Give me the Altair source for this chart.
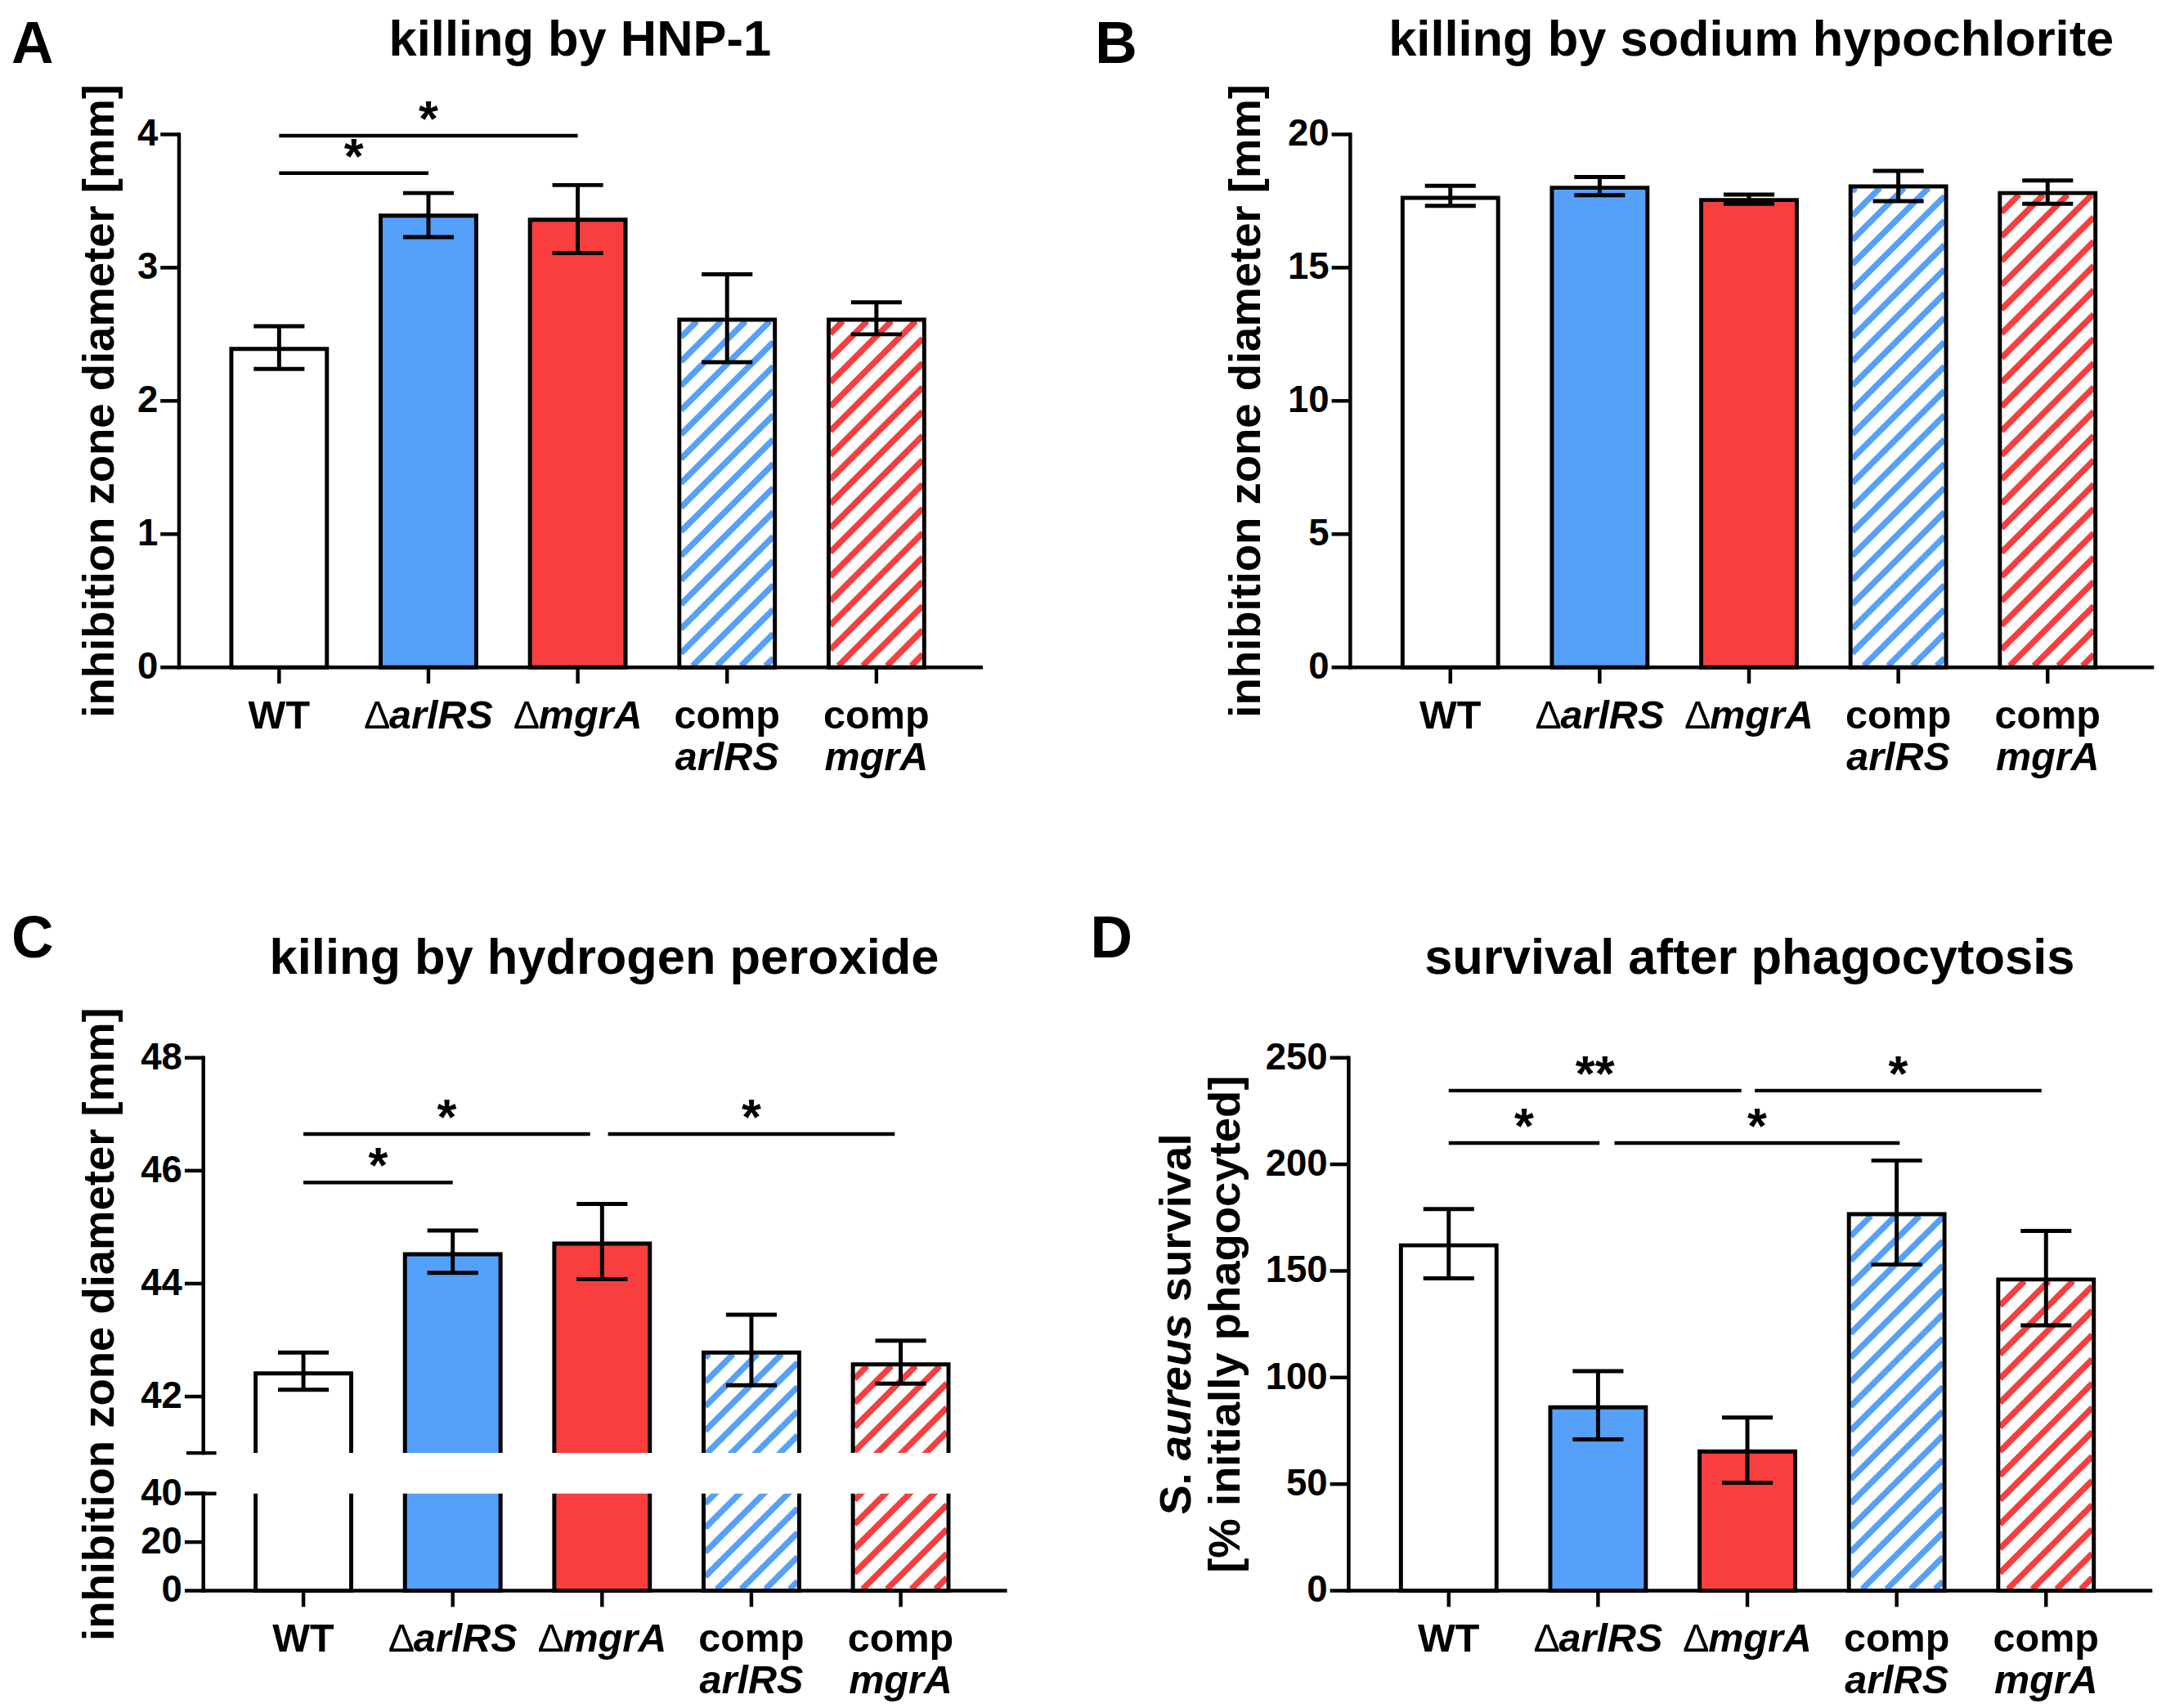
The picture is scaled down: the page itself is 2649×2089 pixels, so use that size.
import math
import altair as alt
import pandas as pd

FONT = "Liberation Sans"
BLUE = "#55a0fb"
RED = "#f83e3e"

# ---------------- data ----------------
group_pos = [0, 1, 2, 3, 4]
groups = ["WT", "ΔarlRS", "ΔmgrA", "comp arlRS", "comp mgrA"]
bar_fill = ["#ffffff", BLUE, RED, "#ffffff", "#ffffff"]
bar_hatch = ["", "", "", BLUE, RED]

# x label pieces: (text, style) b = bold, bi = bold italic, r = regular
label_line1 = [[("WT", "b")], [("Δ", "r"), ("arlRS", "bi")], [("Δ", "r"), ("mgrA", "bi")],
               [("comp", "b")], [("comp", "b")]]
label_line2 = [[], [], [], [("arlRS", "bi")], [("mgrA", "bi")]]

# Panel A
a_letter = "A"
a_title = "killing by HNP-1"
a_ytitle = "inhibition zone diameter [mm]"
a_mean = [2.39, 3.39, 3.36, 2.61, 2.61]
a_lo = [2.24, 3.23, 3.11, 2.29, 2.50]
a_hi = [2.56, 3.56, 3.62, 2.95, 2.74]
a_yticks = [0, 1, 2, 3, 4]
a_sig_x1 = [0.0, 0.0]
a_sig_x2 = [1.0, 2.0]
a_sig_y = [3.71, 3.99]
a_sig_txt = ["*", "*"]

# Panel B
b_letter = "B"
b_title = "killing by sodium hypochlorite"
b_ytitle = "inhibition zone diameter [mm]"
b_mean = [17.62, 18.0, 17.54, 18.05, 17.8]
b_lo = [17.32, 17.72, 17.4, 17.5, 17.4]
b_hi = [18.07, 18.4, 17.74, 18.63, 18.27]
b_yticks = [0, 5, 10, 15, 20]

# Panel C
c_letter = "C"
c_title = "kiling by hydrogen peroxide"
c_ytitle = "inhibition zone diameter [mm]"
c_mean = [42.41, 44.52, 44.71, 42.78, 42.57]
c_lo = [42.12, 44.19, 44.08, 42.2, 42.23]
c_hi = [42.78, 44.94, 45.41, 43.45, 42.99]
c_yticks = [0, 20, 40, 42, 44, 46, 48]
c_sig_x1 = [0.0, 0.0, 2.04]
c_sig_x2 = [1.0, 1.92, 3.96]
c_sig_y = [45.79, 46.65, 46.65]
c_sig_txt = ["*", "*", "*"]
c_break = [40, 41]
c_axis_lo = [0, 41]
c_axis_hi = [40, 48]

# Panel D
d_letter = "D"
d_title = "survival after phagocytosis"
d_ytitle1 = [("S.", "b"), ("aureus", "bi"), ("survival", "b")]
d_ytitle2 = "[% initially phagocyted]"
d_mean = [162, 86, 65.3, 176.6, 146]
d_lo = [146.5, 71, 50.6, 153, 124.5]
d_hi = [179, 103, 81.2, 201.8, 168.8]
d_yticks = [0, 50, 100, 150, 200, 250]
d_sig_x1 = [0.0, 1.11, 0.0, 2.05]
d_sig_x2 = [1.01, 3.02, 1.96, 3.97]
d_sig_y = [210, 210, 234.6, 234.6]
d_sig_txt = ["*", "*", "**", "*"]

# ---------------- layout ----------------
W, H = 990, 658
XMIN, XMAX = -0.67, 4.70
PXU = W / (XMAX - XMIN)
BAR_HALF, CAP_HALF = 0.32, 0.17
HATCH_P, HATCH_W = 30.0, 7.5
AX_W = 4.5
TICK_LEN = 23
TICK_FS, XL_FS, TITLE_FS, YT_FS, LET_FS, STAR_FS = 46, 49, 62, 55, 72, 62

# Arial/Liberation Sans Bold advance widths (per 1000 em)
CW = {"a": 556, "b": 611, "c": 556, "d": 611, "e": 556, "g": 611, "h": 611, "i": 278,
      "l": 278, "m": 889, "n": 611, "o": 611, "p": 611, "r": 389, "s": 556, "t": 333,
      "u": 611, "v": 556, "y": 556, "z": 500, "A": 722, "R": 722, "S": 667, "T": 611,
      "W": 944, ".": 278, " ": 278, "[": 333, "]": 333, "%": 889, "Δ": 640}


def tw(s):
    return sum(CW.get(ch, 556) for ch in s) / 1000.0


def fwd(v, dom, rng):
    for k in range(len(dom) - 1):
        if v <= dom[k + 1] or k == len(dom) - 2:
            t = (v - dom[k]) / (dom[k + 1] - dom[k])
            return rng[k] + t * (rng[k + 1] - rng[k])


def inv(p, dom, rng):
    for k in range(len(dom) - 1):
        a, b = sorted((rng[k], rng[k + 1]))
        if a - 1e-9 <= p <= b + 1e-9:
            t = (p - rng[k]) / (rng[k + 1] - rng[k])
            return dom[k] + t * (dom[k + 1] - dom[k])
    return dom[0]


def hatch_rows(mean, dom, rng):
    rows = []
    for i, col in enumerate(bar_hatch):
        if not col:
            continue
        x0 = (group_pos[i] - BAR_HALF - XMIN) * PXU + 2
        x1 = (group_pos[i] + BAR_HALF - XMIN) * PXU - 2
        yt = fwd(mean[i], dom, rng) + 2
        yb = fwd(dom[0], dom, rng) - 2
        k0 = math.ceil((x0 + yt) / HATCH_P)
        k1 = math.floor((x1 + yb) / HATCH_P)
        for k in range(k0, k1 + 1):
            c = k * HATCH_P
            pa = max(x0, c - yb)
            pb = min(x1, c - yt)
            if pb - pa < 1:
                continue
            rows.append({"hx": XMIN + pa / PXU, "hx2": XMIN + pb / PXU,
                         "hy": inv(c - pa, dom, rng), "hy2": inv(c - pb, dom, rng), "hc": col})
    return pd.DataFrame(rows)


def xlabel_rows(lines):
    rows = []
    for i, parts in enumerate(lines):
        if not parts:
            continue
        total = sum(tw(t) for t, s in parts) * XL_FS
        start = -total / 2
        for t, s in parts:
            rows.append({"lt": t, "lx": group_pos[i] + start / PXU, "ls": s})
            start += tw(t) * XL_FS
    return pd.DataFrame(rows)


XL1 = xlabel_rows(label_line1)
XL2 = xlabel_rows(label_line2)


def one(text):
    return pd.DataFrame({"t": [text]})


STYLES = {"b": ("bold", "normal"), "bi": ("bold", "italic"), "r": ("normal", "normal")}


def panel(letter, title, mean, lo, hi, dom, rng, yticks, sig, let_x, let_y, title_y, ox=0,
          ytitle=None, ytitle_x=-100, ytitle_two=None, breaks=None):
    xs = alt.Scale(domain=[XMIN, XMAX], range=[ox, ox + W], nice=False, zero=False)
    ys = alt.Scale(domain=dom, range=rng, nice=False, zero=False)
    X = lambda f: alt.X(f, scale=xs, axis=None)
    Y = lambda f: alt.Y(f, scale=ys, axis=None)
    bars = pd.DataFrame({"g": groups,
                         "bx": [p - BAR_HALF for p in group_pos],
                         "bx2": [p + BAR_HALF for p in group_pos],
                         "by": [dom[0]] * 5, "by2": mean, "bf": bar_fill})
    L = []
    # invisible marker keeping the right edge of every panel at the same place
    L.append(alt.Chart(one("")).mark_rule(strokeOpacity=0).encode(
        x=alt.value(W + 2), y=alt.value(0), y2=alt.value(H)))
    # bars: fill, hatching, outline
    L.append(alt.Chart(bars).mark_rect(strokeWidth=0).encode(
        x=X("bx:Q"), x2="bx2:Q", y=Y("by:Q"), y2="by2:Q", fill=alt.Fill("bf:N", scale=None)))
    L.append(alt.Chart(hatch_rows(mean, dom, rng)).mark_rule(strokeWidth=HATCH_W, strokeCap="butt").encode(
        x=X("hx:Q"), x2="hx2:Q", y=Y("hy:Q"), y2="hy2:Q", color=alt.Color("hc:N", scale=None)))
    L.append(alt.Chart(bars).mark_rect(fillOpacity=0, stroke="black", strokeWidth=5).encode(
        x=X("bx:Q"), x2="bx2:Q", y=Y("by:Q"), y2="by2:Q"))
    # y axis line (broken in panel C)
    if breaks:
        gap = pd.DataFrame({"gy": [breaks[0]], "gy2": [breaks[1]]})
        L.append(alt.Chart(gap).mark_rect(fill="white", strokeWidth=0).encode(
            x=alt.value(ox + 3), x2=alt.value(W + 5), y=Y("gy:Q"), y2="gy2:Q"))
        seg = pd.DataFrame({"ay": c_axis_lo, "ay2": c_axis_hi})
        bk = pd.DataFrame({"ky": breaks})
        L.append(alt.Chart(bk).mark_rule(strokeWidth=AX_W, color="black").encode(
            x=alt.value(ox - 21), x2=alt.value(ox + 16), y=Y("ky:Q")))
    else:
        seg = pd.DataFrame({"ay": [dom[0]], "ay2": [dom[-1]]})
    L.append(alt.Chart(seg).mark_rule(strokeWidth=AX_W, color="black", strokeCap="square").encode(
        x=alt.value(ox), y=Y("ay:Q"), y2="ay2:Q"))
    # y ticks and labels
    yt = pd.DataFrame({"tv": yticks, "tl": [str(v) for v in yticks]})
    L.append(alt.Chart(yt).mark_rule(strokeWidth=AX_W, color="black").encode(
        x=alt.value(ox - TICK_LEN), x2=alt.value(ox), y=Y("tv:Q")))
    L.append(alt.Chart(yt).mark_text(font=FONT, fontSize=TICK_FS, fontWeight="bold", align="right",
                                     baseline="middle", color="black").encode(
        x=alt.value(ox - TICK_LEN - 3), y=Y("tv:Q"), text="tl:N"))
    # x axis line and ticks
    base = pd.DataFrame({"v": [dom[0]]})
    L.append(alt.Chart(base).mark_rule(strokeWidth=AX_W, color="black", strokeCap="square").encode(
        x=alt.value(ox), x2=alt.value(ox + W), y=Y("v:Q")))
    xt = pd.DataFrame({"tx": group_pos})
    L.append(alt.Chart(xt).mark_rule(strokeWidth=AX_W, color="black").encode(
        x=X("tx:Q"), y=alt.value(H), y2=alt.value(H + 20)))
    # error bars
    eb = pd.DataFrame({"ex": group_pos, "elo": lo, "ehi": hi})
    L.append(alt.Chart(eb).mark_rule(strokeWidth=5, color="black").encode(
        x=X("ex:Q"), y=Y("elo:Q"), y2="ehi:Q"))
    caps = pd.DataFrame({"cx": [p - CAP_HALF for p in group_pos] * 2,
                         "cx2": [p + CAP_HALF for p in group_pos] * 2,
                         "cy": list(lo) + list(hi)})
    L.append(alt.Chart(caps).mark_rule(strokeWidth=5, color="black").encode(
        x=X("cx:Q"), x2="cx2:Q", y=Y("cy:Q")))
    # significance brackets
    if sig:
        sx1, sx2, sy, st = sig
        sd = pd.DataFrame({"sx": sx1, "sx2": sx2, "sy": sy, "st": st,
                           "sm": [(a + b) / 2 for a, b in zip(sx1, sx2)]})
        L.append(alt.Chart(sd).mark_rule(strokeWidth=AX_W, color="black").encode(
            x=X("sx:Q"), x2="sx2:Q", y=Y("sy:Q")))
        L.append(alt.Chart(sd).mark_text(font=FONT, fontSize=STAR_FS, fontWeight="bold",
                                         align="center", baseline="alphabetic", color="black").encode(
            x=X("sm:Q"), y=Y("sy:Q"), text="st:N"))
    # x labels (two lines, mixed styles)
    for df, py in ((XL1, H + 75), (XL2, H + 127)):
        for style, (weight, fstyle) in STYLES.items():
            sub = df[df["ls"] == style]
            if len(sub) == 0:
                continue
            L.append(alt.Chart(sub).mark_text(font=FONT, fontSize=XL_FS, fontWeight=weight, fontStyle=fstyle,
                                              align="left", baseline="alphabetic", color="black").encode(
                x=X("lx:Q"), y=alt.value(py), text="lt:N"))
    # y title
    if ytitle:
        L.append(alt.Chart(one(ytitle)).mark_text(font=FONT, fontSize=YT_FS, fontWeight="bold", angle=270,
                                                  align="center", baseline="middle", color="black").encode(
            x=alt.value(ox + ytitle_x), y=alt.value(H / 2), text="t:N"))
    if ytitle_two:
        parts, line2, x1, x2 = ytitle_two
        total = (sum(tw(t) for t, s in parts) + tw(" ") * (len(parts) - 1)) * YT_FS
        pos = H / 2 + total / 2
        for t, s in parts:
            weight, fstyle = STYLES[s]
            L.append(alt.Chart(one(t)).mark_text(
                font=FONT, fontSize=YT_FS, fontWeight=weight, fontStyle=fstyle, angle=270,
                align="left", baseline="middle", color="black").encode(
                x=alt.value(ox + x1), y=alt.value(pos), text="t:N"))
            pos -= (tw(t) + tw(" ")) * YT_FS
        L.append(alt.Chart(one(line2)).mark_text(font=FONT, fontSize=YT_FS, fontWeight="bold", angle=270,
                                                 align="center", baseline="middle", color="black").encode(
            x=alt.value(ox + x2), y=alt.value(H / 2), text="t:N"))
    # panel letter and title
    L.append(alt.Chart(one(letter)).mark_text(font=FONT, fontSize=LET_FS, fontWeight="bold",
                                              align="left", baseline="alphabetic", color="black").encode(
        x=alt.value(ox + let_x), y=alt.value(let_y), text="t:N"))
    L.append(alt.Chart(one(title)).mark_text(font=FONT, fontSize=TITLE_FS, fontWeight="bold",
                                             align="center", baseline="alphabetic", color="black").encode(
        x=alt.value(ox + W / 2), y=alt.value(title_y), text="t:N"))
    return alt.layer(*L).properties(width=W, height=H)


pA = panel(a_letter, a_title, a_mean, a_lo, a_hi, [0, 4], [H, 0], a_yticks,
           (a_sig_x1, a_sig_x2, a_sig_y, a_sig_txt), -207, -88, -97, ox=-30,
           ytitle=a_ytitle, ytitle_x=-98)
pB = panel(b_letter, b_title, b_mean, b_lo, b_hi, [0, 20], [H, 0], b_yticks,
           None, -315, -88, -97, ytitle=b_ytitle, ytitle_x=-128)
pC = panel(c_letter, c_title, c_mean, c_lo, c_hi, [0, 40, 41, 48], [H, H - 120, H - 170, 0], c_yticks,
           (c_sig_x1, c_sig_x2, c_sig_y, c_sig_txt), -237, -124, -104,
           ytitle=c_ytitle, ytitle_x=-128, breaks=c_break)
pD = panel(d_letter, d_title, d_mean, d_lo, d_hi, [0, 250], [H, 0], d_yticks,
           (d_sig_x1, d_sig_x2, d_sig_y, d_sig_txt), -319, -124, -104,
           ytitle_two=(d_ytitle1, d_ytitle2, -212, -152))

row1 = alt.hconcat(pA, pB, spacing=107)
row2 = alt.hconcat(pC, pD, spacing=98)
chart = alt.concat(row1, row2, columns=1, spacing=161).properties(
    background="white", padding={"left": 5, "top": 0, "right": 5, "bottom": 5}
).configure_view(stroke="transparent")

chart.save("out.html", embed_options={"renderer": "svg", "actions": False})
